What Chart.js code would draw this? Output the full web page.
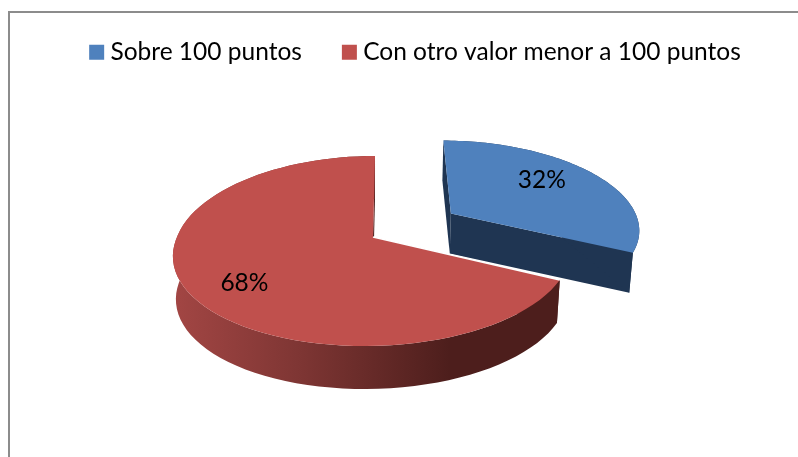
<!DOCTYPE html>
<html lang="es">
<head>
    <meta charset="UTF-8">
    <title>Sobre 100 puntos</title>
    <script src="https://cdn.jsdelivr.net/npm/chart.js"></script>
    <style>
        html, body { margin: 0; padding: 0; background: #fff; overflow: hidden; width: 798px; height: 457px; }
        #frame { position: absolute; left: 8px; top: 11px; width: 900px; height: 600px; border: 2px solid #8c8c8c; background: #fff; }
        #myChart { position: absolute; left: 0; top: -6px; }
    </style>
</head>
<body>
    <div id="frame"></div>
    <canvas id="myChart" width="836" height="463"></canvas>
    <script>
        const categories = ['Sobre 100 puntos', 'Con otro valor menor a 100 puntos'];
        const percents = [32, 68];
        const sliceColors = ['#4f81bd', '#c0504d'];

        // look of the tilted pie, tuned against the picture
        const cx = 373, cy = 243;      // apex of the pie on the page (canvas sits 6px higher)
        const radius = 196, flat = 95, bend = 14, widen = 0.17;

        // lean: [back half, front half] of the slice
        function project(X, U, z, lean) {
            const y = flat * U + bend * U * U;
            const x = radius * X * (1 + widen * U) - (y < 0 ? lean[0] : lean[1]) * y;
            const k = 1 - 0.015 * z / 43;
            return [cx + x * k, cy + y + z];
        }

        function rimPoints(start, end, shiftX, shiftU, scale, z, lean) {
            const pts = [];
            for (let i = 0; i <= 80; i++) {
                const t = start + (end - start) * i / 80;
                pts.push(project(Math.sin(t) * scale + shiftX, -Math.cos(t) * scale + shiftU, z, lean));
            }
            return pts;
        }

        function fillPath(ctx, pts, color) {
            ctx.beginPath();
            pts.forEach((p, i) => i ? ctx.lineTo(p[0], p[1]) : ctx.moveTo(p[0], p[1]));
            ctx.closePath();
            ctx.fillStyle = color;
            ctx.fill();
        }

        const tiltedPie = {
            id: 'tiltedPie',
            beforeDatasetsDraw(chart, args, opts) {
                const ctx = chart.ctx;
                const arcs = chart.getDatasetMeta(0).data;
                ctx.save();
                arcs.forEach((arc, i) => {
                    const start = arc.startAngle + Math.PI / 2;
                    const end = arc.endAngle + Math.PI / 2;
                    const mid = (start + end) / 2;
                    const lean = opts.lean[i];
                    const depth = opts.depth[i];
                    const sx = Math.sin(mid) * opts.explode[i];
                    const su = -Math.cos(mid) * opts.explode[i];
                    const rim = rimPoints(start, end, sx, su, opts.scale[i], 0, lean);
                    const low = rimPoints(start, end, sx, su, opts.scale[i], depth, lean);
                    const apex = project(sx, su, 0, lean);
                    const apexLow = project(sx, su, depth, lean);

                    // cut faces first, then the outer wall, then the top
                    fillPath(ctx, [apex, rim[0], low[0], apexLow], opts.wallColors[i]);
                    fillPath(ctx, [apex, rim[80], low[80], apexLow], opts.wallColors[i]);
                    if (i === 0) {
                        // blue rim only shows as a sliver tapering to the lower corner
                        fillPath(ctx, rim.concat([low[80]]), opts.wallColors[i]);
                    } else {
                        const wall = ctx.createLinearGradient(172, 0, 450, 0);
                        wall.addColorStop(0, '#a34644');
                        wall.addColorStop(0.45, '#7f3634');
                        wall.addColorStop(1, '#4d1e1c');
                        fillPath(ctx, rim.concat(low.slice().reverse()), wall);
                    }
                    fillPath(ctx, [apex].concat(rim), sliceColors[i]);

                    if (i === 1) {
                        // thin white seam where the red slice meets the blue wall
                        ctx.beginPath();
                        ctx.moveTo(apex[0], apex[1]);
                        ctx.lineTo(rim[0][0], rim[0][1]);
                        ctx.strokeStyle = '#fff';
                        ctx.lineWidth = 1.5;
                        ctx.stroke();
                    }
                });
                arcs.forEach((arc, i) => {
                    const mx = (arc.startAngle + arc.endAngle) / 2 + Math.PI / 2;
                    const mid = mx + opts.labelTurn;
                    const sx = Math.sin(mx) * opts.explode[i];
                    const su = -Math.cos(mx) * opts.explode[i];
                    const p = project(Math.sin(mid) * opts.labelRadius[i] + sx, -Math.cos(mid) * opts.labelRadius[i] + su, 0, opts.lean[i]);
                    ctx.fillStyle = '#000';
                    ctx.font = '24.5px Lato';
                    ctx.textAlign = 'center';
                    ctx.textBaseline = 'middle';
                    ctx.fillText(percents[i] + '%', p[0], p[1]);
                });
                ctx.restore();
                return false;
            }
        };

        const ctx = document.getElementById('myChart').getContext('2d');
        const myChart = new Chart(ctx, {
            type: 'pie',
            data: {
                labels: categories,
                datasets: [{
                    data: percents,
                    backgroundColor: sliceColors,
                    borderWidth: 0
                }]
            },
            plugins: [tiltedPie],
            options: {
                responsive: false,
                animation: false,
                plugins: {
                    tooltip: { enabled: false },
                    legend: {
                        position: 'top',
                        labels: {
                            color: '#000',
                            font: { family: 'Lato', size: 24.5 },
                            usePointStyle: true,
                            pointStyle: 'rect',
                            boxWidth: 3,
                            boxHeight: 15,
                            padding: 46
                        }
                    },
                    tiltedPie: {
                        explode: [0.48, 0],
                        scale: [0.985, 1],
                        depth: [40, 43],
                        lean: [[0.08, 0.08], [0.025, 0.08]],
                        wallColors: ['#1f3552', '#4d1e1c'],
                        labelTurn: -5 * Math.PI / 180,
                        labelRadius: [0.68, 0.745]
                    }
                }
            }
        });
    </script>
</body>
</html>
